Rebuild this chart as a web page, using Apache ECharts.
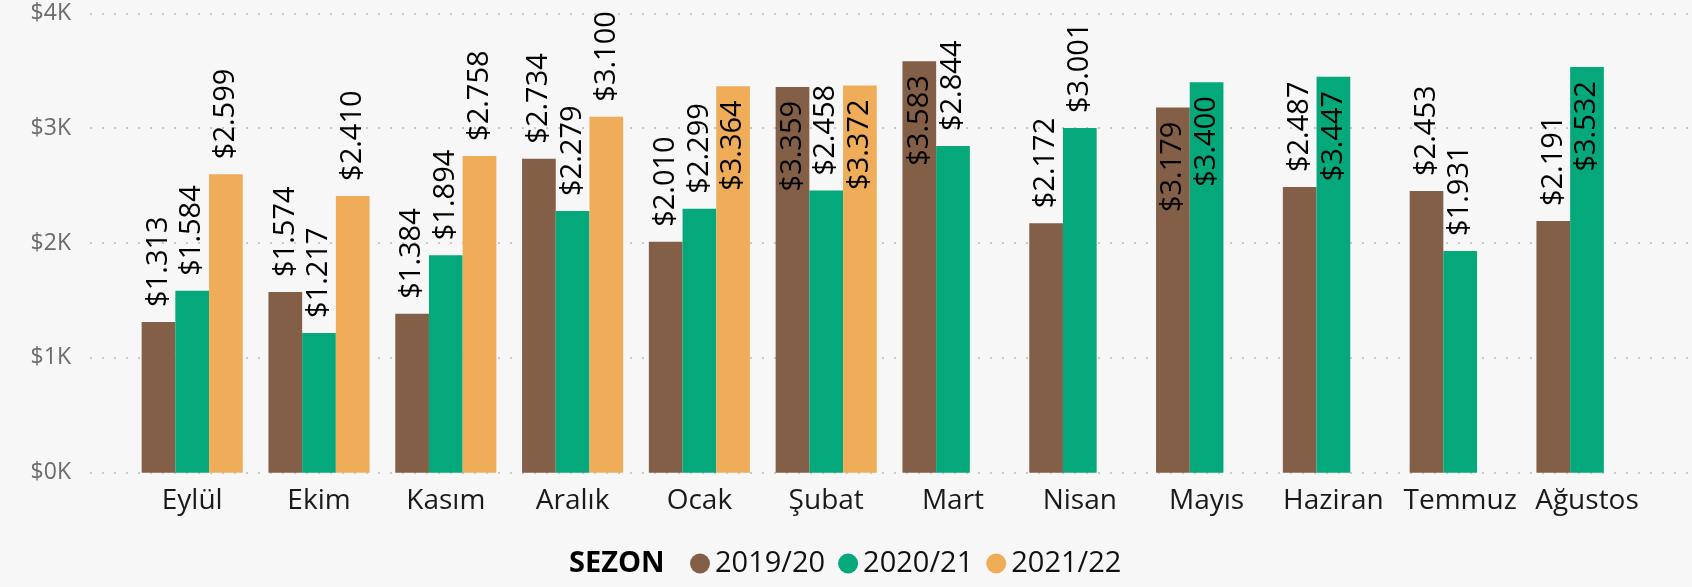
<!DOCTYPE html>
<html>
<head>
<meta charset="utf-8">
<script src="https://cdn.jsdelivr.net/npm/echarts@6/dist/echarts.min.js"></script>
<style>
  html, body { margin: 0; padding: 0; background: #f7f7f7; }
  #chart { width: 1692px; height: 587px; }
</style>
</head>
<body>
<div id="chart"></div>
<script>
// sezon verisi (aylık)
const months = ['Eylül', 'Ekim', 'Kasım', 'Aralık', 'Ocak', 'Şubat', 'Mart', 'Nisan', 'Mayıs', 'Haziran', 'Temmuz', 'Ağustos'];
const season1920 = [1313, 1574, 1384, 2734, 2010, 3359, 3583, 2172, 3179, 2487, 2453, 2191];
const season2021 = [1584, 1217, 1894, 2279, 2299, 2458, 2844, 3001, 3400, 3447, 1931, 3532];
const season2122 = [2599, 2410, 2758, 3100, 3364, 3372, null, null, null, null, null, null];
const seasonNames = ['2019/20', '2020/21', '2021/22'];
const yTicks = [0, 1000, 2000, 3000, 4000];

const colors = ['#845f47', '#05a87a', '#efad5a'];
const font = '"Open Sans", "Noto Sans", sans-serif';

const fmt = v => '$' + String(v).replace(/\B(?=(\d{3})+(?!\d))/g, '.');

const labelOut = {
  show: true, position: 'top', rotate: 90, align: 'left', verticalAlign: 'middle',
  distance: 15, color: '#000', fontSize: 29, fontFamily: font, formatter: p => fmt(p.value),
};
const labelIn = Object.assign({}, labelOut, { position: 'insideTop', align: 'right', distance: 14 });

// tall bars get their label inside, like the original
const toItems = arr => arr.map(v => v == null ? null : { value: v, label: v > 3150 ? labelIn : labelOut });

const chart = echarts.init(document.getElementById('chart'));
chart.setOption({
  backgroundColor: '#f7f7f7',
  animation: false,
  textStyle: { fontFamily: font },
  title: {
    text: 'SEZON', left: 569, top: 549, padding: 0,
    textStyle: { fontSize: 29, fontWeight: 'bold', color: '#000', fontFamily: font },
  },
  legend: {
    data: seasonNames, left: 690, top: 549, padding: 0,
    icon: 'circle', itemWidth: 20, itemHeight: 20, itemGap: 13,
    textStyle: { fontSize: 29, color: '#111', fontFamily: font },
  },
  grid: [
    { left: 90, right: 0, top: 13.3, bottom: 114.3 },
    { left: 128.8, right: 41.6, top: 13.3, bottom: 114.3 },
  ],
  xAxis: [
    { gridIndex: 0, type: 'value', show: false, min: 0, max: 1 },
    {
      gridIndex: 1, type: 'category', data: months,
      axisLine: { show: false }, axisTick: { show: false },
      axisLabel: { interval: 0, color: '#1a1a1a', fontSize: 28, margin: 14, fontFamily: font },
    },
  ],
  yAxis: [
    {
      gridIndex: 0, type: 'value', min: yTicks[0], max: yTicks[yTicks.length - 1], interval: 1000,
      axisLine: { show: false }, axisTick: { show: false },
      axisLabel: { color: '#6b6b6b', fontSize: 23, margin: 19, fontFamily: font, formatter: v => '$' + (v / 1000) + 'K' },
      splitLine: { lineStyle: { color: '#c9c9c9', width: 2, type: [2, 10] } },
    },
    { gridIndex: 1, type: 'value', min: 0, max: 4000, show: false, splitLine: { show: false } },
  ],
  series: [season1920, season2021, season2122].map((arr, i) => ({
    name: seasonNames[i], type: 'bar', xAxisIndex: 1, yAxisIndex: 1,
    data: toItems(arr), barWidth: 33.7, barGap: '0%',
    itemStyle: { color: colors[i] },
  })),
});
</script>
</body>
</html>
